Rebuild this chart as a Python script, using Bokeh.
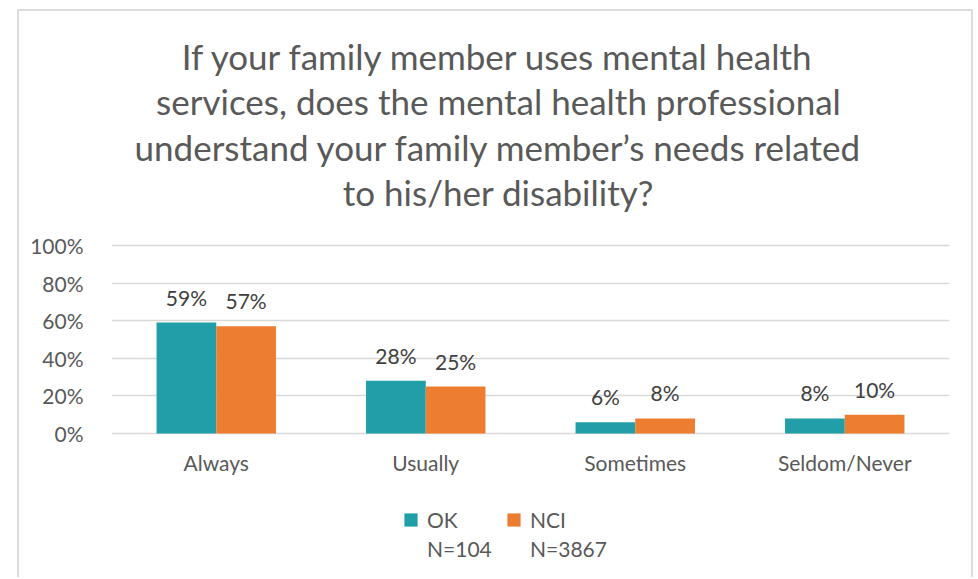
from bokeh.plotting import figure
from bokeh.models import (ColumnDataSource, FactorRange, Range1d, FixedTicker,
                          NumeralTickFormatter, LabelSet, Label, Legend, LegendItem)
from bokeh.transform import dodge
from bokeh.core.properties import value
from bokeh.embed import file_html
from bokeh.resources import INLINE

categories = ["Always", "Usually", "Sometimes", "Seldom/Never"]
ok_values = [0.59, 0.28, 0.06, 0.08]
nci_values = [0.57, 0.25, 0.08, 0.10]
series_names = ["OK", "NCI"]
series_n = ["N=104", "N=3867"]
y_ticks = [0, 0.2, 0.4, 0.6, 0.8, 1.0]
title_lines = ["If your family member uses mental health",
               "services, does the mental health professional",
               "understand your family member\u2019s needs related",
               "to his/her disability?"]

TEAL = "#219EA8"
ORANGE = "#ED7D31"
GRAY = "#595959"
FONT = "Lato"
FS = "21px"

# ---- layout (page pixels) ----
ORIGIN_X, ORIGIN_Y = 19, 11        # canvas origin on the page (margin + 2px border)
W, H = 956, 568
FRAME_L, FRAME_R = 111, 949        # plot area horizontally
Y100, Y0 = 245, 433                # pixel rows of 100% and 0%
BOTTOM = 2
FB = ORIGIN_Y + H - BOTTOM         # frame bottom (page px)
PX = Y0 - Y100                     # pixels per 100%
y_end = 1.0 + (Y100 - ORIGIN_Y) / PX
y_start = -(FB - Y0) / PX

TITLE_CX, TITLE_BASE0, TITLE_PITCH = 498, 65, 45.5
LABEL_FIX = 10                     # label baseline correction

src = ColumnDataSource(dict(
    cat=categories, ok=ok_values, nci=nci_values,
    ok_lbl=[f"{round(v * 100)}%" for v in ok_values],
    nci_lbl=[f"{round(v * 100)}%" for v in nci_values],
))

p = figure(x_range=FactorRange(factors=categories, range_padding=0),
           y_range=Range1d(y_start, y_end),
           width=W, height=H, output_backend="svg", toolbar_location=None,
           min_border_left=FRAME_L - ORIGIN_X, min_border_right=ORIGIN_X + W - FRAME_R,
           min_border_top=0, min_border_bottom=BOTTOM)
p.styles = {"border": "2px solid #dcdcdc", "border-bottom": "none",
            "margin-left": "17px", "margin-top": "9px"}

# title lines (screen units relative to the plot frame)
for i, line in enumerate(title_lines):
    p.add_layout(Label(text=line, x=TITLE_CX - FRAME_L, x_units="screen",
                       y=FB - (TITLE_BASE0 + i * TITLE_PITCH) + LABEL_FIX, y_units="screen",
                       text_align="center", text_baseline="alphabetic",
                       text_font=FONT, text_font_size="35px", text_color=GRAY))

bw = 0.285
p.vbar(x=dodge("cat", -bw / 2, range=p.x_range), top="ok", width=bw, source=src,
       fill_color=TEAL, line_color=None)
p.vbar(x=dodge("cat", bw / 2, range=p.x_range), top="nci", width=bw, source=src,
       fill_color=ORANGE, line_color=None)

for field, lbl, off in (("ok", "ok_lbl", -bw / 2), ("nci", "nci_lbl", bw / 2)):
    p.add_layout(LabelSet(x=dodge("cat", off, range=p.x_range), y=field, text=lbl, source=src,
                          y_offset=17, text_align="center", text_baseline="alphabetic",
                          text_font=value(FONT), text_font_size=FS, text_color="#404040"))

# category labels under the 0% line
p.add_layout(LabelSet(x="cat", y=0, text="cat", source=src, y_offset=-16,
                      text_align="center", text_baseline="top",
                      text_font=value(FONT), text_font_size=FS, text_color=GRAY))

p.xgrid.visible = False
p.xaxis.visible = False
p.ygrid.grid_line_color = "#d9d9d9"
p.ygrid.grid_line_width = 1.3
p.outline_line_color = None

p.yaxis.ticker = FixedTicker(ticks=y_ticks)
p.yaxis.formatter = NumeralTickFormatter(format="0%")
p.yaxis.axis_line_color = None
p.yaxis.major_tick_line_color = None
p.yaxis.minor_tick_line_color = None
p.yaxis.major_label_standoff = 22
p.yaxis.major_label_text_font = FONT
p.yaxis.major_label_text_font_size = FS
p.yaxis.major_label_text_color = GRAY

# zero-size markers used only as legend swatches
l_ok = p.scatter(x="cat", y="ok", source=src, size=0, marker="square",
                 fill_color=TEAL, line_color=None)
l_nci = p.scatter(x="cat", y="nci", source=src, size=0, marker="square",
                  fill_color=ORANGE, line_color=None)
l_blank = p.scatter(x="cat", y="ok", source=src, size=0, marker="square",
                    fill_alpha=0, line_alpha=0)

LEG_X = 394 - FRAME_L
common = dict(orientation="horizontal", glyph_width=33, glyph_height=33, label_standoff=0,
              label_width=70, label_height=33, spacing=0, padding=0, margin=0,
              border_line_alpha=0, background_fill_alpha=0,
              label_text_font=FONT, label_text_font_size=FS, label_text_color=GRAY)
leg_a = Legend(items=[LegendItem(label=series_names[0], renderers=[l_ok]),
                      LegendItem(label=series_names[1], renderers=[l_nci])],
               location=(LEG_X, FB - 535.5), **common)
leg_b = Legend(items=[LegendItem(label=series_n[0], renderers=[l_blank]),
                      LegendItem(label=series_n[1], renderers=[l_blank])],
               location=(LEG_X, FB - 564.5), **common)
p.add_layout(leg_a)
p.add_layout(leg_b)

open("out.html", "w").write(file_html(p, INLINE))
